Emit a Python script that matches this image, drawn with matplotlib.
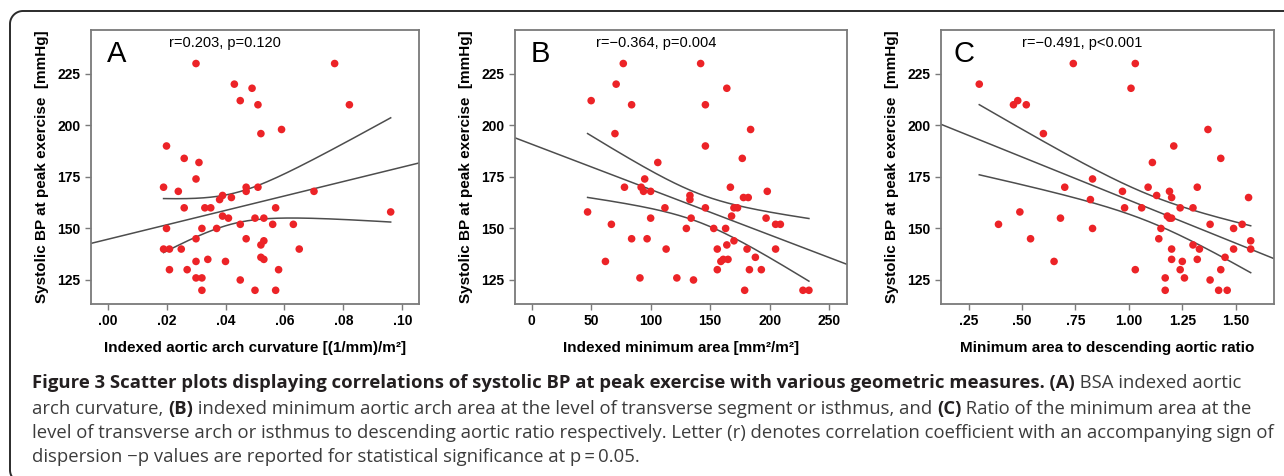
import matplotlib
matplotlib.use("Agg")
import matplotlib.pyplot as plt
import numpy as np

plt.rcParams['font.family'] = ['Liberation Sans', 'DejaVu Sans']

# panel A: indexed aortic arch curvature
a_x = [0.030, 0.077, 0.043, 0.049, 0.045, 0.051, 0.082, 0.059, 0.052, 0.020,
       0.026, 0.031, 0.030, 0.019, 0.024, 0.047, 0.047, 0.051, 0.070, 0.039,
       0.042, 0.038, 0.026, 0.033, 0.035, 0.057, 0.096, 0.039, 0.041, 0.050,
       0.053, 0.045, 0.056, 0.063, 0.020, 0.032, 0.037, 0.030, 0.047, 0.053,
       0.052, 0.019, 0.021, 0.025, 0.065, 0.052, 0.053, 0.034, 0.030, 0.040,
       0.021, 0.027, 0.058, 0.030, 0.032, 0.045, 0.032, 0.050, 0.057]
a_y = [230, 230, 220, 218, 212, 210, 210, 198, 196, 190,
       184, 182, 174, 170, 168, 170, 168, 170, 168, 166,
       165, 164, 160, 160, 160, 160, 158, 156, 155, 155,
       155, 152, 152, 152, 150, 150, 150, 145, 145, 144,
       142, 140, 140, 140, 140, 136, 135, 135, 134, 134,
       130, 130, 130, 126, 126, 125, 120, 120, 120]

# panel B: indexed minimum area
b_x = [77, 142, 71, 164, 50, 84, 146, 70, 184, 146,
       177, 106, 95, 78, 92, 94, 100, 167, 198, 133,
       133, 178, 182, 146, 112, 170, 173, 168, 47, 100,
       134, 197, 205, 209, 67, 130, 153, 163, 84, 97,
       170, 164, 113, 156, 181, 205, 188, 161, 165, 62,
       159, 156, 183, 193, 91, 122, 136, 179, 228, 233]
b_y = [230, 230, 220, 218, 212, 210, 210, 196, 198, 190,
       184, 182, 174, 170, 170, 168, 168, 170, 168, 166,
       164, 165, 165, 160, 160, 160, 160, 156, 158, 155,
       155, 155, 152, 152, 152, 150, 150, 150, 145, 145,
       144, 142, 140, 140, 140, 140, 136, 135, 135, 134,
       134, 130, 130, 130, 126, 126, 125, 120, 120, 120]

# panel C: minimum area to descending aortic ratio
c_x = [0.30, 0.74, 1.03, 1.01, 0.48, 0.46, 0.52, 0.60, 1.37, 1.21,
       1.43, 1.11, 0.83, 0.70, 1.09, 1.32, 0.97, 1.19, 1.13, 1.20,
       1.56, 0.82, 0.98, 1.06, 1.24, 1.30, 0.49, 1.18, 1.19, 1.20,
       0.68, 0.39, 1.38, 1.53, 0.83, 1.15, 1.49, 0.54, 1.14, 1.57,
       1.30, 1.33, 1.20, 1.49, 1.57, 1.45, 1.20, 1.32, 0.65, 1.25,
       1.03, 1.24, 1.43, 1.17, 1.26, 1.38, 1.17, 1.42, 1.46]
c_y = [220, 230, 230, 218, 212, 210, 210, 196, 198, 190,
       184, 182, 174, 170, 170, 170, 168, 168, 166, 165,
       165, 164, 160, 160, 160, 160, 158, 156, 155, 155,
       155, 152, 152, 152, 150, 150, 150, 145, 145, 144,
       142, 140, 140, 140, 140, 136, 135, 135, 134, 134,
       130, 130, 130, 126, 126, 125, 120, 120, 120]

letters = ['A', 'B', 'C']
stats = ['r=0.203, p=0.120', 'r=\u22120.364, p=0.004', 'r=\u22120.491, p<0.001']
x_labels = ['Indexed aortic arch curvature [(1/mm)/m\u00b2]',
            'Indexed minimum area [mm\u00b2/m\u00b2]',
            'Minimum area to descending aortic ratio']
x_ticks = [[0.0, 0.02, 0.04, 0.06, 0.08, 0.10],
           [0, 50, 100, 150, 200, 250],
           [0.25, 0.50, 0.75, 1.00, 1.25, 1.50]]
x_tick_labels = [['.00', '.02', '.04', '.06', '.08', '.10'],
                 ['0', '50', '100', '150', '200', '250'],
                 ['.25', '.50', '.75', '1.00', '1.25', '1.50']]
x_lims = [(-0.0056, 0.1056), (-14, 265), (0.121, 1.679)]
y_ticks = [125, 150, 175, 200, 225]
y_lim = (113.5, 246.5)

caption_lines = [
    [("Figure 3 Scatter plots displaying correlations of systolic BP at peak "
      "exercise with various geometric measures. (A)", 'bold'),
     (" BSA indexed aortic", 'normal')],
    [("arch curvature, ", 'normal'), ("(B)", 'bold'),
     (" indexed minimum aortic arch area at the level of transverse segment "
      "or isthmus, and ", 'normal'),
     ("(C)", 'bold'), (" Ratio of the minimum area at the", 'normal')],
    [("level of transverse arch or isthmus to descending aortic ratio "
      "respectively. Letter (r) denotes correlation coefficient with an "
      "accompanying sign of", 'normal')],
    [("dispersion \u2212p values are reported for statistical significance "
      "at p\u2009=\u20090.05.", 'normal')],
]

T95 = 2.0
RED = '#ec2327'
LINE = '#4d4d4d'
FRAME = '#7a7a7a'


def fit_band(x, y, xs):
    x = np.asarray(x, float)
    y = np.asarray(y, float)
    n = len(x)
    slope, icpt = np.polyfit(x, y, 1)
    resid = y - (icpt + slope * x)
    s = np.sqrt(np.sum(resid ** 2) / (n - 2))
    sxx = np.sum((x - x.mean()) ** 2)
    se = s * np.sqrt(1.0 / n + (xs - x.mean()) ** 2 / sxx)
    return icpt + slope * xs, T95 * se


fig = plt.figure(figsize=(12.84, 4.76), dpi=100)

# background layer in pixel coordinates (border + caption)
bg = fig.add_axes([0, 0, 1, 1], zorder=-1)
bg.set_xlim(0, 1284)
bg.set_ylim(476, 0)
bg.axis('off')

# open frame: top edge, rounded top-left corner, left edge, rounded bottom-left
r = 13
t = np.linspace(0, np.pi / 2, 30)
top_arc_x = 10 + r - r * np.cos(t)
top_arc_y = 11 + r - r * np.sin(t)
bot_arc_x = 10 + r - r * np.cos(t)
bot_arc_y = 470 + r * np.sin(t)
frame_x = np.concatenate([bot_arc_x[::-1], top_arc_x, [1290]])
frame_y = np.concatenate([bot_arc_y[::-1], top_arc_y, [11]])
bg.plot(frame_x, frame_y, color='#2b2b2b', lw=1.4, solid_capstyle='butt')

positions = [[91 / 1284, 0.362, 328 / 1284, 0.576],
             [515 / 1284, 0.362, 332 / 1284, 0.576],
             [941 / 1284, 0.362, 333 / 1284, 0.576]]
letter_dx = [0.049, 0.047, 0.037]
stat_dx = [0.238, 0.244, 0.243]

datasets = [(a_x, a_y), (b_x, b_y), (c_x, c_y)]
for i, (xs, ys) in enumerate(datasets):
    ax = fig.add_axes(positions[i])
    ax.scatter(xs, ys, s=30, color=RED, edgecolors='none', zorder=3)

    lo, hi = x_lims[i]
    full = np.linspace(lo, hi, 50)
    fit, _ = fit_band(xs, ys, full)
    ax.plot(full, fit, color=LINE, lw=1.1, zorder=2)
    span = np.linspace(min(xs), max(xs), 200)
    mid, half = fit_band(xs, ys, span)
    ax.plot(span, mid + half, color=LINE, lw=1.1, zorder=2)
    ax.plot(span, mid - half, color=LINE, lw=1.1, zorder=2)

    ax.set_xlim(lo, hi)
    ax.set_ylim(*y_lim)
    ax.set_xticks(x_ticks[i])
    ax.set_xticklabels(x_tick_labels[i], fontweight='bold', fontsize=10)
    ax.set_yticks(y_ticks)
    ax.set_yticklabels([str(v) for v in y_ticks], fontweight='bold', fontsize=10)
    ax.tick_params(direction='out', length=4.5, width=1, color=FRAME, pad=3)
    for sp in ax.spines.values():
        sp.set_color(FRAME)
        sp.set_linewidth(1.3)

    ax.set_ylabel('Systolic BP at peak exercise  [mmHg]', fontweight='bold',
                  fontsize=11, labelpad=6)
    ax.set_xlabel(x_labels[i], fontweight='bold', fontsize=11, labelpad=9)
    ax.text(letter_dx[i], 0.882, letters[i], transform=ax.transAxes,
            fontsize=21, va='baseline', ha='left')
    ax.text(stat_dx[i], 0.9375, stats[i], transform=ax.transAxes,
            fontsize=10.5, va='baseline', ha='left')

# caption, pieces laid out one after another
renderer = fig.canvas.get_renderer()
cap_font = ['Open Sans', 'DejaVu Sans']
cap_size = 13.3
baselines = [388, 414, 438, 462]
for line, yb in zip(caption_lines, baselines):
    x0 = 32
    for text, weight in line:
        color = '#231f20' if weight == 'bold' else '#3c3c3c'
        txt = bg.text(x0, yb, text, fontsize=cap_size, fontweight=weight,
                      family=cap_font, color=color, va='baseline', ha='left')
        bb = txt.get_window_extent(renderer)
        x0 += bb.width

fig.savefig('out.png', dpi=100)
